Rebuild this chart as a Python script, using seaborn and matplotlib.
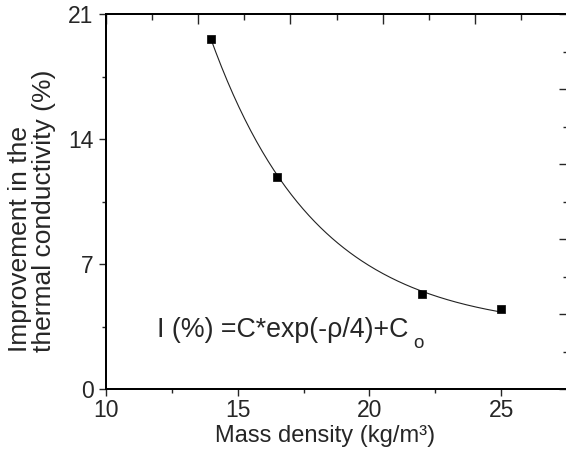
import numpy as np
import pandas as pd
import matplotlib
matplotlib.use("Agg")
import matplotlib.pyplot as plt
import seaborn as sns
from matplotlib.ticker import MultipleLocator, NullFormatter

# data
density = [14.0, 16.5, 22.0, 25.0]
improvement = [19.6, 11.9, 5.35, 4.47]

sns.set_style("ticks")
plt.rcParams["font.family"] = ["Liberation Sans", "DejaVu Sans"]

df = pd.DataFrame({"rho": density, "imp": improvement})

# least squares fit of I = C*exp(-rho/4) + C0
C, C0 = np.polyfit(np.exp(-df["rho"] / 4), df["imp"], 1)
rho_fit = np.linspace(min(density), max(density), 200)
fit = pd.DataFrame({"rho": rho_fit, "imp": C * np.exp(-rho_fit / 4) + C0})

fig = plt.figure(figsize=(5.66, 4.49), dpi=100)
ax = fig.add_axes([106 / 566, 1 - 389 / 449, 461 / 566, 374.7 / 449])

sns.lineplot(data=fit, x="rho", y="imp", ax=ax, color="#222222", linewidth=0.8)
sns.scatterplot(data=df, x="rho", y="imp", ax=ax, marker="s", s=38,
                color="black", edgecolor="black", zorder=3)

ax.set_xlim(10, 27.5)
ax.set_ylim(0, 21)
ax.xaxis.set_major_locator(MultipleLocator(5))
ax.xaxis.set_minor_locator(MultipleLocator(2.5))
ax.yaxis.set_major_locator(MultipleLocator(7))
ax.yaxis.set_minor_locator(MultipleLocator(3.5))
ax.tick_params(which="major", direction="out", length=5, width=1, labelsize=16.5, pad=4)
ax.tick_params(which="minor", direction="out", length=3, width=1)
ax.tick_params(axis="x", pad=2)

ax.set_xlabel("Mass density (kg/m³)", fontsize=17)
ax.xaxis.set_label_coords((325.5 - 106) / 461, -0.1407)
ax.xaxis.label.set_va("baseline")
ax.set_ylabel("Improvement in the\nthermal conductivity (%)", fontsize=19,
              multialignment="left", linespacing=1.0)
ax.yaxis.set_label_coords(-0.108, 0.475)

ax.text(11.93, 2.93, "I (%) =C*exp(-ρ/4)+C", fontsize=19.3,
        va="baseline", ha="left")
ax.text(21.66, 2.30, "o", fontsize=13.5, va="baseline", ha="left")

# extra tick-only axes on top and right
top = ax.twiny()
top.set_xlim(0, 5)
top.xaxis.set_major_locator(MultipleLocator(1))
top.xaxis.set_minor_locator(MultipleLocator(0.5))
top.xaxis.set_major_formatter(NullFormatter())
top.tick_params(axis="x", which="major", direction="in", length=7, width=1)
top.tick_params(axis="x", which="minor", direction="in", length=4, width=1)

right = ax.twinx()
right.set_ylim(0, 5)
right.yaxis.set_major_locator(MultipleLocator(1))
right.yaxis.set_minor_locator(MultipleLocator(0.5))
right.yaxis.set_major_formatter(NullFormatter())
right.tick_params(axis="y", which="major", direction="in", length=6, width=1)
right.tick_params(axis="y", which="minor", direction="in", length=3, width=1)

for a in (ax, top, right):
    for sp in a.spines.values():
        sp.set_linewidth(1.2)
        sp.set_color("black")

fig.savefig("out.png", dpi=100)
